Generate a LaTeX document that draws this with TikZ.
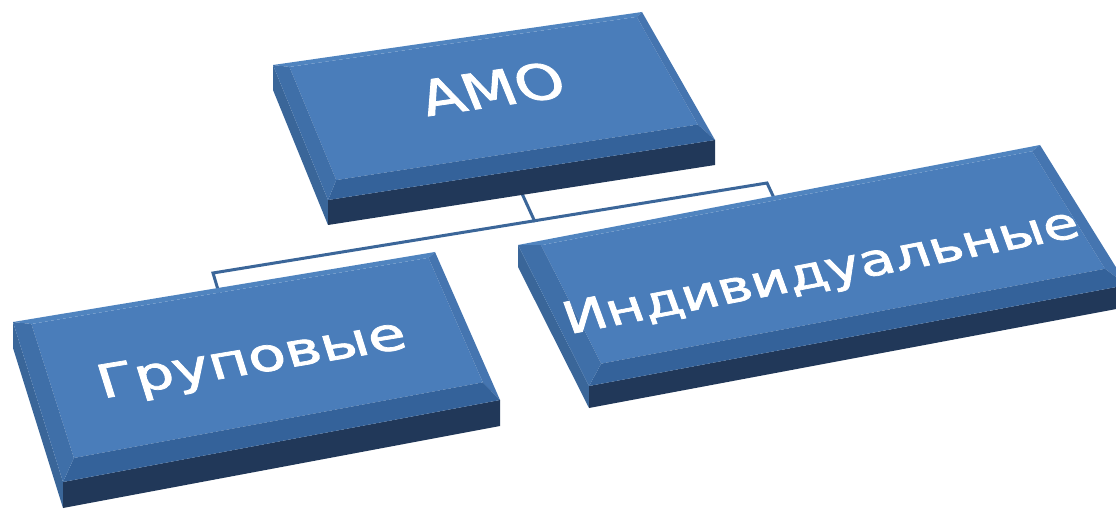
\documentclass[tikz,border=0pt]{standalone}
\usepackage{fontspec}
\setmainfont{DejaVu Sans}
\newfontfamily\slabfont[FakeBold=1.6]{DejaVu Sans}
\usepackage{tikz}
\usetikzlibrary{calc}
\definecolor{boxtop}{HTML}{4A7DBA}
\definecolor{bevtop}{HTML}{5084BF}
\definecolor{bevright}{HTML}{4575B0}
\definecolor{bevbot}{HTML}{34629A}
\definecolor{bevleft}{HTML}{3F6FA8}
\definecolor{boxside}{HTML}{3A6699}
\definecolor{boxfront}{HTML}{213859}
\definecolor{linkblue}{HTML}{3B6699}

\begin{document}
\begin{tikzpicture}[x=1pt,y=1pt]
\tikzstyle{link}=[draw=linkblue, line width=3pt]
\tikzstyle{boxtext}=[font=\slabfont\fontsize{57}{60}\selectfont, text=white,
                     anchor=base, inner sep=0pt, transform shape]
\clip (0,0) rectangle (1116,-510);

% connectors, under the slabs
\coordinate (amo-s) at (519,-187);
\coordinate (bus) at (535,-222);
\coordinate (bus-l) at (213,-273);
\coordinate (bus-r) at (767,-183);
\coordinate (grp-n) at (219,-293);
\coordinate (ind-n) at (774,-198);
\draw[link] (amo-s) -- (bus);
\draw[link] (grp-n) -- (bus-l) -- (bus-r) -- (ind-n);

% slabs: top face corners a,b,c,d (pixels from top left) and thickness
\foreach \n/\ax/\ay/\bx/\by/\cx/\cy/\dx/\dy/\t in
  {amo/273/65/642/12/715/140/328/200/25,
   grp/13/322/435/252/500/400/63/482/26,
   ind/518/245/1040/145/1127/285/589/386/22}{
  \coordinate (\n-a) at (\ax,-\ay);
  \coordinate (\n-b) at (\bx,-\by);
  \coordinate (\n-c) at (\cx,-\cy);
  \coordinate (\n-d) at (\dx,-\dy);
  \coordinate (\n-ia) at ($($(\n-a)!0.04!(\n-b)$)!0.03!($(\n-d)!0.04!(\n-c)$)$);
  \coordinate (\n-ib) at ($($(\n-a)!0.98!(\n-b)$)!0.03!($(\n-d)!0.98!(\n-c)$)$);
  \coordinate (\n-ic) at ($($(\n-a)!0.98!(\n-b)$)!0.87!($(\n-d)!0.98!(\n-c)$)$);
  \coordinate (\n-id) at ($($(\n-a)!0.04!(\n-b)$)!0.87!($(\n-d)!0.04!(\n-c)$)$);
  \fill[boxside] (\n-a) -- (\n-d) -- ++(0,-\t) -- ($(\n-a)+(0,-\t)$) -- cycle;
  \fill[boxfront] (\n-d) -- (\n-c) -- ++(0,-\t) -- ($(\n-d)+(0,-\t)$) -- cycle;
  \fill[boxtop] (\n-ia) -- (\n-ib) -- (\n-ic) -- (\n-id) -- cycle;
  \fill[bevtop] (\n-a) -- (\n-b) -- (\n-ib) -- (\n-ia) -- cycle;
  \fill[bevright] (\n-b) -- (\n-c) -- (\n-ic) -- (\n-ib) -- cycle;
  \fill[bevbot] (\n-c) -- (\n-d) -- (\n-id) -- (\n-ic) -- cycle;
  \fill[bevleft] (\n-d) -- (\n-a) -- (\n-ia) -- (\n-id) -- cycle;
}

% labels lying on the slabs
\begin{scope}[cm={1.069,0.1536,-0.338,0.830,(499,-106)}]
  \node[boxtext] (amo-txt) at (0,0) {АМО};
\end{scope}
\begin{scope}[cm={1.0556,0.1751,-0.244,0.779,(256,-373)}]
  \node[boxtext] (grp-txt) at (0,0) {Груповые};
\end{scope}
\begin{scope}[cm={0.982,0.188,-0.27,0.74,(826,-285)}]
  \node[boxtext] (ind-txt) at (0,0) {Индивидуальные};
\end{scope}
\end{tikzpicture}
\end{document}
